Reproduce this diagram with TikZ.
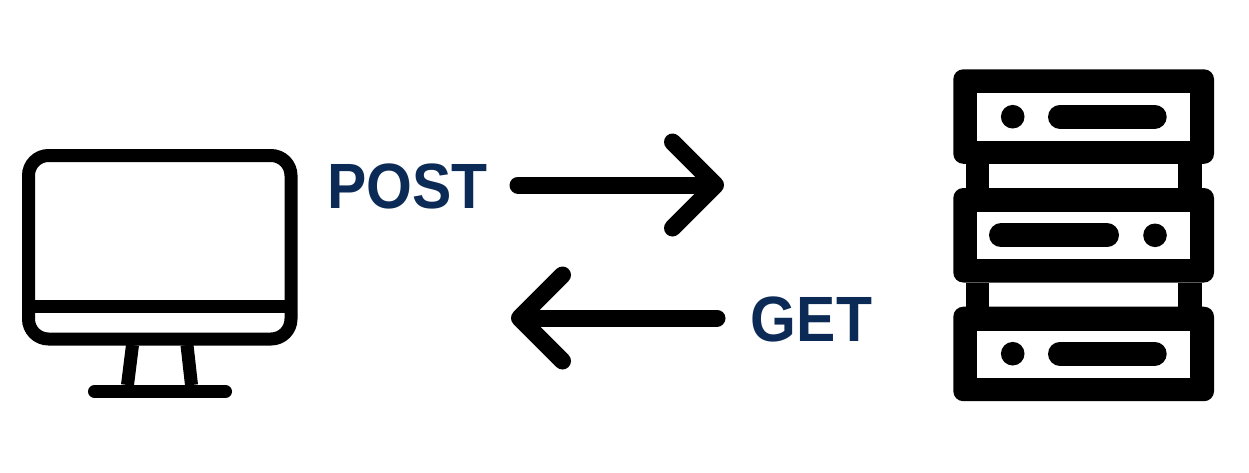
\documentclass[tikz,border=0pt]{standalone}
\usepackage{fontspec}
\setmainfont{Liberation Sans}
\usetikzlibrary{arrows.meta}
\definecolor{labelblue}{HTML}{0B2A55}
\tikzset{
	icon/.style={draw=black,line width=13pt},
	unit/.style={fill=black,rounded corners=10pt},
	window/.style={fill=white},
	pill/.style={draw=black,line width=24pt,line cap=round},
	flow/.style={draw=black,line width=17pt,line cap=round,-{Straight Barb[length=43pt,width=86pt,round]}},
	method/.style={font=\fontsize{64}{64}\selectfont\bfseries,text=labelblue,inner sep=0pt,xscale=0.92}
}

\begin{document}
\begin{tikzpicture}[x=1pt,y=-1pt]
	\useasboundingbox (0,0) rectangle (1249,472);
	
	% monitor
	\draw [icon,rounded corners=20pt] (28.5,155.5) rectangle (291,339);
	\draw [icon] (28.5,306.5) -- (291,306.5);
	\draw [icon] (132.5,345) -- (127.5,385);
	\draw [icon] (187,345) -- (191.5,385);
	\draw [icon,line cap=round] (94.5,391.5) -- (225.5,391.5);
	
	% server
	\foreach \y in {164,282.7}{
		\fill (965.7,\y) rectangle (1201.7,\y+24);
		\fill [window] (989,\y) rectangle (1178.3,\y+24);
	}
	\foreach \y in {69.3,188,306.7}{
		\fill [unit] (953.3,\y) rectangle (1214,\y+94.5);
		\fill [window] (976.7,\y+24) rectangle (1190,\y+71.3);
	}
	\foreach \y in {116.7,353.7}{
		\fill (1012.7,\y) circle (11.8);
		\draw [pill] (1060,\y) -- (1154.7,\y);
	}
	\fill (1155,235.3) circle (11.8);
	\draw [pill] (1001,235.3) -- (1107,235.3);
	
	% labels and arrows
	\node (post) [method] at (407.5,186) {POST};
	\node (get) [method] at (811.5,319) {GET};
	\coordinate (postfrom) at (518,185);
	\coordinate (postto) at (724,185);
	\coordinate (getfrom) at (717,318);
	\coordinate (getto) at (511,318);
	\draw [flow] (postfrom) -- (postto);
	\draw [flow] (getfrom) -- (getto);
\end{tikzpicture}
\end{document}
